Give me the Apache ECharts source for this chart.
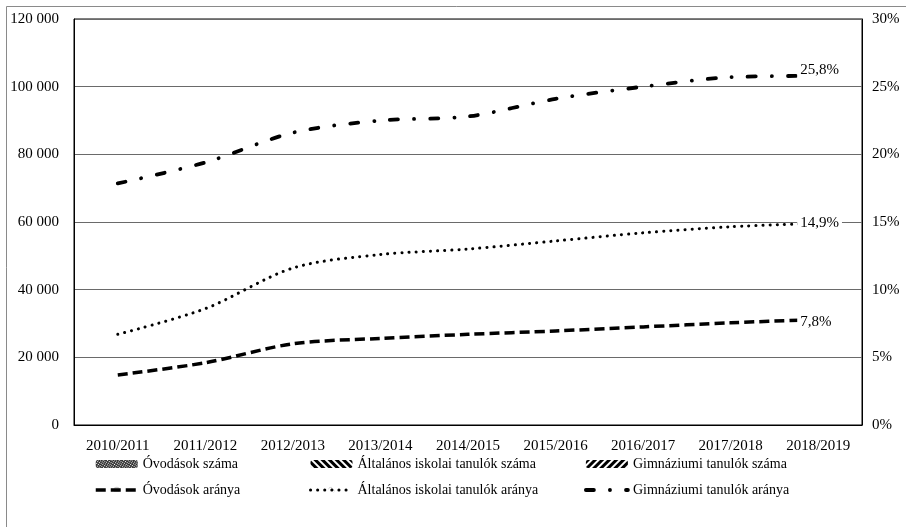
<!DOCTYPE html>
<html>
<head>
<meta charset="utf-8">
<script src="https://cdn.jsdelivr.net/npm/echarts@6/dist/echarts.min.js"></script>
<style>
  html, body { margin: 0; padding: 0; background: #fff; }
  #chart { width: 906px; height: 527px; }
</style>
</head>
<body>
<div id="chart"></div>
<script>
// School years on the category axis
const tanevek = ['2010/2011', '2011/2012', '2012/2013', '2013/2014', '2014/2015',
                 '2015/2016', '2016/2017', '2017/2018', '2018/2019'];

// Headcounts (left axis) – no bars are plotted for these series
const ovodasokSzama = [];
const altalanosSzama = [];
const gimnaziumSzama = [];

// Shares in percent (right axis)
const ovodasokAranya = [3.7, 4.6, 6.0, 6.4, 6.7, 6.95, 7.25, 7.55, 7.8];
const altalanosAranya = [6.7, 8.6, 11.6, 12.6, 13.0, 13.6, 14.2, 14.65, 14.9];
const gimnaziumAranya = [17.85, 19.4, 21.6, 22.5, 22.8, 24.1, 25.0, 25.7, 25.8];

// Axis tick settings
const balTengely = { min: 0, max: 120000, interval: 20000 };
const jobbTengely = { min: 0, max: 30, interval: 5 };

const FONT = 'Liberation Serif';
const thousands = v => String(v).replace(/\B(?=(\d{3})+(?!\d))/g, ' ');
const pct = v => v.toFixed(1).replace('.', ',') + '%';

const chart = echarts.init(document.getElementById('chart'), null, { renderer: 'canvas' });

function endLabel(dy) {
  return {
    show: true,
    formatter: p => pct(p.value),
    fontFamily: FONT,
    fontSize: 15,
    color: '#000',
    backgroundColor: '#fff',
    padding: [1, 3, 1, 3],
    distance: 0,
    offset: [-21, dy]
  };
}

// line entries in the legend show only the stroke, no marker
const hiddenMarker = { color: 'rgba(0,0,0,0)', borderColor: 'rgba(0,0,0,0)', borderWidth: 0 };
const lineEntry = name => ({ name: name, itemStyle: hiddenMarker });

const legendBase = {
  orient: 'vertical',
  top: 456,
  padding: 0,
  itemWidth: 42,
  itemHeight: 8,
  itemGap: 10,
  lineStyle: { width: 'inherit' },
  textStyle: { fontFamily: FONT, fontSize: 14, color: '#000', lineHeight: 16 },
  selectedMode: false
};

chart.setOption({
  animation: false,
  aria: { enabled: true, decal: { show: true } },
  textStyle: { fontFamily: FONT },
  graphic: [{
    type: 'rect',
    shape: { x: 6.5, y: 6.5, width: 1000, height: 1000 },
    style: { fill: 'none', stroke: '#8a8a8a', lineWidth: 1 },
    silent: true,
    z: -1
  }],
  grid: {
    left: 74, right: 44, top: 19, bottom: 102,
    show: true, borderColor: '#000', borderWidth: 1, backgroundColor: 'transparent'
  },
  legend: [
    Object.assign({}, legendBase, { left: 94, data: ['Óvodások száma', lineEntry('Óvodások aránya')] }),
    Object.assign({}, legendBase, { left: 309, data: ['Általános iskolai tanulók száma', lineEntry('Általános iskolai tanulók aránya')] }),
    Object.assign({}, legendBase, { left: 584, data: ['Gimnáziumi tanulók száma', lineEntry('Gimnáziumi tanulók aránya')] })
  ],
  xAxis: {
    type: 'category',
    data: tanevek,
    boundaryGap: true,
    axisLine: { show: true, lineStyle: { color: '#000', width: 1 } },
    axisTick: { show: false },
    axisLabel: { fontFamily: FONT, fontSize: 15, color: '#000', margin: 14 }
  },
  yAxis: [{
    type: 'value',
    min: balTengely.min, max: balTengely.max, interval: balTengely.interval,
    axisLine: { show: true, lineStyle: { color: '#000', width: 1 } },
    axisTick: { show: false },
    splitLine: { show: true, lineStyle: { color: '#6a6a6a', width: 1 } },
    axisLabel: { fontFamily: FONT, fontSize: 15, color: '#000', margin: 15, formatter: thousands }
  }, {
    type: 'value',
    position: 'right',
    min: jobbTengely.min, max: jobbTengely.max, interval: jobbTengely.interval,
    axisLine: { show: true, lineStyle: { color: '#000', width: 1 } },
    axisTick: { show: false },
    splitLine: { show: false },
    axisLabel: { fontFamily: FONT, fontSize: 15, color: '#000', margin: 10, formatter: '{value}%' }
  }],
  series: [
    {
      name: 'Óvodások száma', type: 'bar', yAxisIndex: 0, data: ovodasokSzama,
      itemStyle: {
        color: '#2e2e2e',
        decal: { symbol: 'rect', symbolSize: 1, dashArrayX: [1, 1], dashArrayY: [1, 1], color: '#ffffff' }
      }
    },
    {
      name: 'Általános iskolai tanulók száma', type: 'bar', yAxisIndex: 0, data: altalanosSzama,
      itemStyle: {
        color: '#ffffff',
        decal: { symbol: 'rect', symbolSize: 1, dashArrayX: [1, 0], dashArrayY: [3, 2], rotation: Math.PI / 4, color: '#000' }
      }
    },
    {
      name: 'Gimnáziumi tanulók száma', type: 'bar', yAxisIndex: 0, data: gimnaziumSzama,
      itemStyle: {
        color: '#ffffff',
        decal: { symbol: 'rect', symbolSize: 1, dashArrayX: [1, 0], dashArrayY: [3, 2], rotation: -Math.PI / 4, color: '#000' }
      }
    },
    {
      name: 'Óvodások aránya', type: 'line', yAxisIndex: 1, data: ovodasokAranya,
      smooth: 0.3, symbol: 'none',
      itemStyle: { color: '#000' },
      lineStyle: { color: '#000', width: 3.5, type: [10, 5], cap: 'butt' },
      endLabel: endLabel(3)
    },
    {
      name: 'Általános iskolai tanulók aránya', type: 'line', yAxisIndex: 1, data: altalanosAranya,
      smooth: 0.3, symbol: 'none',
      itemStyle: { color: '#000' },
      lineStyle: { color: '#000', width: 3, type: [0.1, 7], cap: 'round' },
      endLabel: endLabel(0)
    },
    {
      name: 'Gimnáziumi tanulók aránya', type: 'line', yAxisIndex: 1, data: gimnaziumAranya,
      smooth: 0.3, symbol: 'none',
      itemStyle: { color: '#000' },
      lineStyle: { color: '#000', width: 3.8, type: [8, 16, 0.1, 16], cap: 'round' },
      endLabel: endLabel(-6)
    }
  ]
});
</script>
</body>
</html>
